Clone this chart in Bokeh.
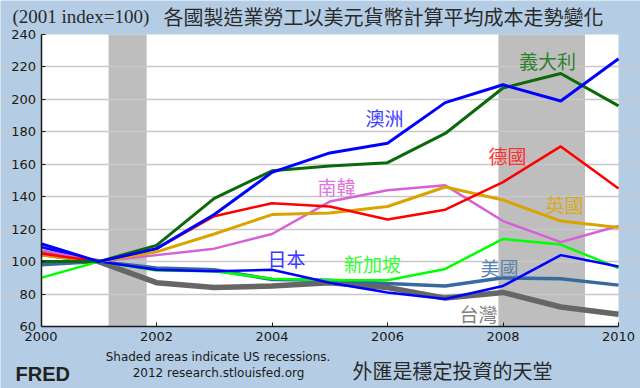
from bokeh.plotting import figure
from bokeh.models import Range1d, Label, FixedTicker
from bokeh.embed import file_html
from bokeh.resources import INLINE

# ---------------- data ----------------
years = [2000, 2001, 2002, 2003, 2004, 2005, 2006, 2007, 2008, 2009, 2010]
australia = [111, 100, 108, 129, 155, 167, 173, 198, 209, 199, 225]
italy     = [100, 100, 110, 139, 156, 159, 161, 179, 207, 216, 196]
germany   = [105, 100, 108, 128, 136, 134, 126, 132, 149, 171, 145]
uk        = [104, 100, 106, 117, 129, 130, 134, 146, 138, 125, 121]
korea     = [107, 100, 104, 108, 117, 137, 144, 147, 125, 112, 122]
japan     = [109, 100, 95, 94, 95, 87, 81, 77, 85, 104, 97]
singapore = [90, 100, 94.5, 94, 89.5, 88.5, 88.5, 95.5, 114, 110.5, 96]
usa       = [98, 100, 96, 95, 89, 88.5, 86.5, 85, 90, 89.5, 85.5]
taiwan    = [105, 100, 87, 84, 85, 87, 84, 77.5, 81, 72, 67.5]

rec_start = [2001.17, 2007.92]
rec_end   = [2001.83, 2009.42]

x_ticks = [2000, 2002, 2004, 2006, 2008, 2010]
y_ticks = [60, 80, 100, 120, 140, 160, 180, 200, 220, 240]
x_lo, x_hi = 2000, 2010
y_lo, y_hi = 60, 240

series_names = ["台灣", "美國", "新加坡", "日本", "南韓", "英國", "德國", "義大利", "澳洲"]
series_vals = [taiwan, usa, singapore, japan, korea, uk, germany, italy, australia]

title_latin = "(2001 index=100)"
title_cjk = "各國製造業勞工以美元貨幣計算平均成本走勢變化"
note1 = "Shaded areas indicate US recessions."
note2 = "2012 research.stlouisfed.org"
brand = "FRED"
slogan = "外匯是穩定投資的天堂"

# ---------------- layout & styles ----------------
W, H = 640, 388
PX_L, PX_R, PX_T, PX_B = 40.5, 618.0, 34.0, 326.0   # plot-area edges in canvas pixels
sx = (PX_R - PX_L) / (x_hi - x_lo)
sy = (PX_B - PX_T) / (y_hi - y_lo)


def at(px, py):
    """canvas pixel -> data coordinate (for text placement)"""
    return x_lo + (px - PX_L) / sx, y_lo + (PX_B - py) / sy


BG = "#b4cde4"
colors = {"台灣": "#666666", "美國": "#386aa0", "新加坡": "#00ff00", "日本": "#0000ff",
          "南韓": "#d660d6", "英國": "#d9a400", "德國": "#ff0000", "義大利": "#0a6a0a",
          "澳洲": "#0000ff"}
label_colors = {"台灣": "#808080", "美國": "#5a82b0", "新加坡": "#33ff33", "日本": "#3838ff",
                "南韓": "#dd77dd", "英國": "#d9aa20", "德國": "#ff3030", "義大利": "#2f7f2f",
                "澳洲": "#4040ff"}
widths = {"台灣": 5.5, "美國": 3.5, "新加坡": 2.5, "日本": 2.5, "南韓": 2.5,
          "英國": 3, "德國": 2.5, "義大利": 3, "澳洲": 3}
label_px = {"澳洲": (384, 117), "義大利": (547, 60), "德國": (507, 155), "南韓": (336, 186),
            "英國": (564, 204), "日本": (286, 258), "新加坡": (372, 263), "美國": (499, 267),
            "台灣": (478, 313)}

p = figure(width=W, height=H, output_backend="svg", toolbar_location=None,
           x_range=Range1d(x_lo - PX_L / sx, x_hi + (W - PX_R) / sx),
           y_range=Range1d(y_lo - (H - PX_B) / sy, y_hi + PX_T / sy),
           min_border=0, min_border_left=0, min_border_right=0,
           min_border_top=0, min_border_bottom=0,
           background_fill_color=BG, border_fill_color=BG, outline_line_color=None)

# white plot area and recession shading (below the grid)
p.quad(left=[x_lo], right=[x_hi], bottom=[y_lo], top=[y_hi], fill_color="white",
       line_color=None, level="image")
p.quad(left=rec_start, right=rec_end, bottom=y_lo, top=y_hi, fill_color="#bebebe",
       line_color=None, level="image")

p.xgrid.visible = False
p.ygrid.grid_line_color = "#c8c8c8"
p.ygrid.grid_line_width = 1.5
p.ygrid.ticker = FixedTicker(ticks=y_ticks[1:-1])
p.ygrid.bounds = (x_lo, x_hi)

p.xaxis.fixed_location = y_lo
p.yaxis.fixed_location = x_lo
p.xaxis.bounds = (x_lo, x_hi)
p.yaxis.bounds = (y_lo, y_hi)
for ax in (p.xaxis, p.yaxis):
    ax.axis_line_color = "#1a1a1a"
    ax.axis_line_width = 1.5
    ax.major_tick_in = 4
    ax.major_tick_out = 0
    ax.major_tick_line_color = "#1a1a1a"
    ax.minor_tick_line_color = None
    ax.major_label_text_font = "DejaVu Sans"
    ax.major_label_text_font_size = "13px"
    ax.major_label_text_color = "#1a1a1a"
    ax.major_label_standoff = 5
p.xaxis.ticker = FixedTicker(ticks=x_ticks)
p.yaxis.ticker = FixedTicker(ticks=y_ticks)

for name, vals in zip(series_names, series_vals):
    p.line(years, vals, line_color=colors[name], line_width=widths[name])

for name in series_names:
    lx, ly = at(*label_px[name])
    p.add_layout(Label(x=lx, y=ly, text=name, text_align="center", text_baseline="middle",
                       text_font="Noto Sans CJK TC", text_font_size="19px",
                       text_color=label_colors[name]))

# title & footers
def put(text, px, py, align, font, size, style="normal", color="#2a2a2a"):
    lx, ly = at(px, py)
    p.add_layout(Label(x=lx, y=ly, text=text, text_align=align, text_baseline="middle",
                       text_font=font, text_font_size=size, text_font_style=style,
                       text_color=color))

put(title_latin, 12, 16, "left", "Liberation Serif", "19px")
put(title_cjk, 163, 16, "left", "Noto Sans CJK TC", "20px")
put(note1, 217.5, 356, "center", "DejaVu Sans", "12px", color="#1a1a1a")
put(note2, 218, 372.5, "center", "DejaVu Sans", "12px", color="#1a1a1a")
put(brand, 15, 373.5, "left", "Liberation Sans", "20px", style="bold", color="#222222")
put(slogan, 352, 370, "left", "Noto Sans CJK TC", "20px")

open("out.html", "w").write(file_html(p, INLINE))
